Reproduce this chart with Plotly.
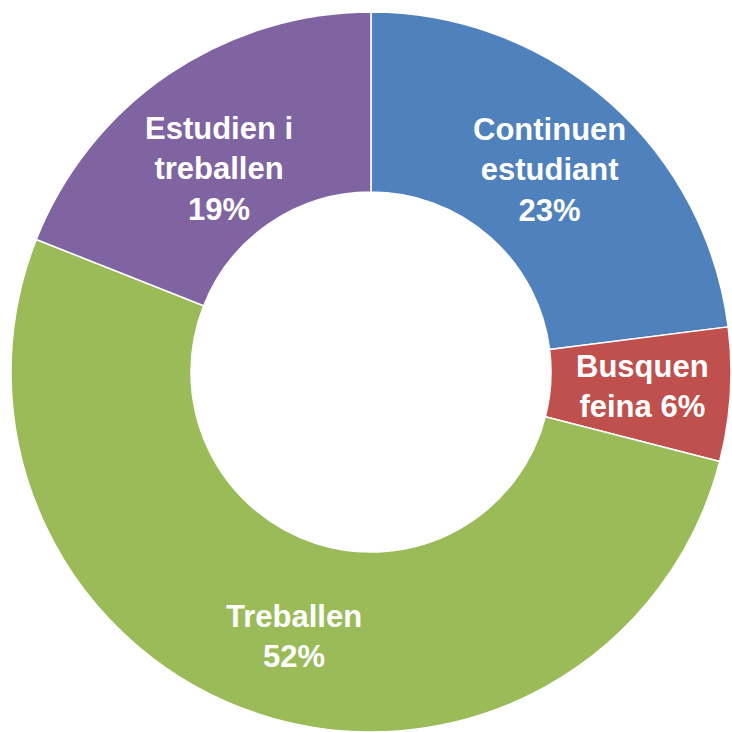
import math
import plotly.graph_objects as go

labels = ["Continuen estudiant", "Busquen feina", "Treballen", "Estudien i treballen"]
values = [23, 6, 52, 19]
text_labels = ["Continuen<br>estudiant<br>23%", "Busquen<br>feina 6%", "Treballen<br>52%", "Estudien i<br>treballen<br>19%"]
colors = ["#4F81BD", "#C0504D", "#9BBB59", "#8064A2"]

W, H = 732, 732
M = dict(l=10, r=0, t=12, b=0)
HOLE = 0.5
FONT = dict(family="Liberation Sans, Arial, sans-serif", size=31, color="white")
# small label nudges (pixels) to mimic the original label placement
label_dy = [-1, 2, -8, -20]
label_dx = [0, 2, 6, 0]

fig = go.Figure(go.Pie(
    labels=labels,
    values=values,
    textinfo="none",
    hole=HOLE,
    sort=False,
    direction="clockwise",
    rotation=0,
    marker=dict(colors=colors, line=dict(color="white", width=1.5)),
    showlegend=False,
    hoverinfo="label+percent",
))

# labels at the middle of each ring segment, from the data
plot_w = W - M["l"] - M["r"]
plot_h = H - M["t"] - M["b"]
radius = min(plot_w, plot_h) / 2
r_mid = (HOLE + 1) / 2 * radius
total = sum(values)
cum = 0
for i, v in enumerate(values):
    mid = (cum + v / 2) / total * 2 * math.pi
    fig.add_annotation(
        x=0.5, y=0.5, xref="paper", yref="paper", showarrow=False,
        xshift=r_mid * math.sin(mid) + label_dx[i],
        yshift=r_mid * math.cos(mid) + label_dy[i],
        text="<b>" + text_labels[i] + "</b>", font=FONT,
        xanchor="center", yanchor="middle",
    )
    cum += v

fig.update_layout(
    width=W, height=H,
    margin=M,
    paper_bgcolor="white",
)
fig.write_html("out.html", config={"displayModeBar": False},
               post_script="document.body.style.margin='0';")
